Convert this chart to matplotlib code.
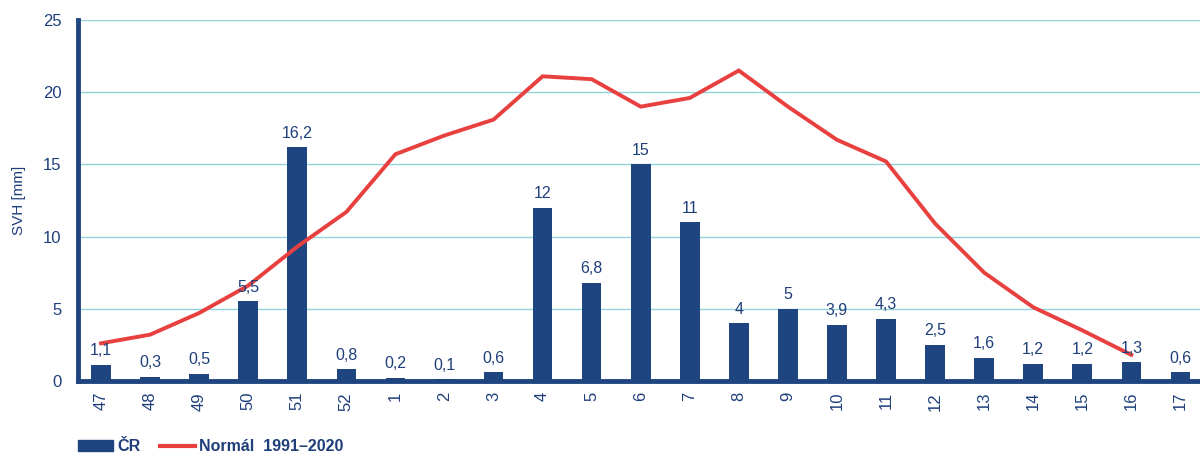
import matplotlib
matplotlib.use("Agg")
import matplotlib.pyplot as plt
from matplotlib.patches import Patch
from matplotlib.lines import Line2D

plt.rcParams["font.family"] = ["Liberation Sans", "DejaVu Sans"]

weeks = ["47", "48", "49", "50", "51", "52", "1", "2", "3", "4", "5", "6",
         "7", "8", "9", "10", "11", "12", "13", "14", "15", "16", "17"]
cr_values = [1.1, 0.3, 0.5, 5.5, 16.2, 0.8, 0.2, 0.1, 0.6, 12, 6.8, 15,
             11, 4, 5, 3.9, 4.3, 2.5, 1.6, 1.2, 1.2, 1.3, 0.6]
normal_values = [2.6, 3.2, 4.7, 6.6, 9.3, 11.7, 15.7, 17.0, 18.1, 21.1, 20.9, 19.0,
                 19.6, 21.5, 19.0, 16.7, 15.2, 10.9, 7.5, 5.1, 3.5, 1.8]
y_ticks = [0, 5, 10, 15, 20, 25]

BLUE = "#1f4580"
RED = "#e8403f"
GRID = "#93d4dc"
TEXT = "#1f3f7a"

fig = plt.figure(figsize=(12, 4.55), dpi=100)
ax = fig.add_axes([0.065, 0.163, 0.935, 0.793])

x = list(range(len(weeks)))
ax.bar(x, cr_values, width=0.4, color=BLUE, zorder=2)
ax.plot(list(range(len(normal_values))), normal_values, color=RED, lw=2.8, zorder=3,
        solid_joinstyle="miter")

for xi, v in zip(x, cr_values):
    lab = f"{v:g}".replace(".", ",")
    ax.text(xi, v + 0.45, lab, ha="center", va="bottom", fontsize=11.5, color=TEXT, zorder=4)

ax.set_xlim(-0.47, 22.4)
ax.set_ylim(0, 25)
ax.set_yticks(y_ticks)
ax.set_xticks(x)
ax.set_xticklabels(weeks, rotation=90)
ax.tick_params(axis="both", length=0, colors=TEXT, labelsize=12)
ax.tick_params(axis="y", pad=12)
ax.tick_params(axis="x", pad=8)
for t in ax.get_yticklabels() + ax.get_xticklabels():
    t.set_color(TEXT)

ax.yaxis.grid(True, color=GRID, lw=1.0, zorder=0)
ax.set_axisbelow(True)
for s in ["top", "right"]:
    ax.spines[s].set_visible(False)
ax.spines["left"].set_color(BLUE)
ax.spines["left"].set_linewidth(3.5)
ax.spines["bottom"].set_color(BLUE)
ax.spines["bottom"].set_linewidth(3.5)

ax.set_ylabel("SVH [mm]", color=TEXT, fontsize=11, labelpad=12)

handles = [Patch(color=BLUE, label="ČR"),
           Line2D([0], [0], color=RED, lw=3, label="Normál  1991–2020")]
leg = fig.legend(handles=handles, loc="center left", bbox_to_anchor=(0.065, 0.018),
                 ncol=2, frameon=False, handlelength=2.2, handleheight=0.7,
                 borderpad=0, borderaxespad=0,
                 columnspacing=1.2, handletextpad=0.25, prop={"weight": "bold", "size": 11.5})
for t in leg.get_texts():
    t.set_color(TEXT)

fig.savefig("out.png", dpi=100)
